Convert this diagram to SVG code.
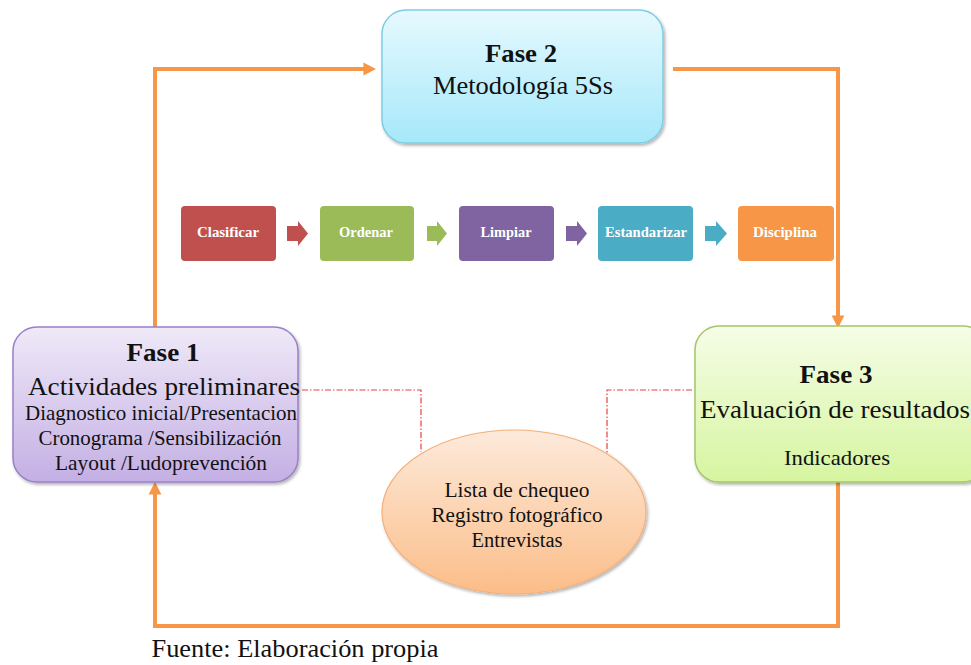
<svg xmlns="http://www.w3.org/2000/svg" width="971" height="665" viewBox="0 0 971 665" font-family="Liberation Serif, Times New Roman, serif">
<defs>
<linearGradient id="gBlue" x1="0" y1="0" x2="0" y2="1"><stop offset="0" stop-color="#e6f9fe"/><stop offset="1" stop-color="#a6e8fa"/></linearGradient>
<linearGradient id="gPurple" x1="0" y1="0" x2="0" y2="1"><stop offset="0" stop-color="#efe9f8"/><stop offset="1" stop-color="#c4afe4"/></linearGradient>
<linearGradient id="gGreen" x1="0" y1="0" x2="0" y2="1"><stop offset="0" stop-color="#f5fde6"/><stop offset="1" stop-color="#d6f5a0"/></linearGradient>
<linearGradient id="gOrange" x1="0" y1="0" x2="0" y2="1"><stop offset="0" stop-color="#fdeadb"/><stop offset="1" stop-color="#fbbd88"/></linearGradient>
<filter id="sh" x="-10%" y="-10%" width="130%" height="130%"><feDropShadow dx="1.5" dy="2" stdDeviation="1.5" flood-color="#000" flood-opacity="0.3"/></filter>
<marker id="ah" viewBox="0 0 10 10" refX="2" refY="5" markerWidth="3.2" markerHeight="3.4" orient="auto" markerUnits="strokeWidth"><path d="M0,0 L10,5 L0,10 Z" fill="#f79646"/></marker>
</defs>
<style>
.conn{fill:none;stroke:#f79646;stroke-width:4;stroke-linejoin:miter}
.dd{fill:none;stroke:#e8413a;stroke-width:1.2;stroke-dasharray:6 2 1.5 2}
.t{fill:#111;text-anchor:middle}
.b{font-weight:bold}
.p{font-weight:bold;fill:#fff;font-size:15px;text-anchor:middle}
</style>
<rect width="971" height="665" fill="#fff"/>

<g id="connectors">
<path class="conn" d="M155,327 V69 H366" marker-end="url(#ah)"/>
<path class="conn" d="M673,69 H838 V318" marker-end="url(#ah)"/>
<path class="conn" d="M838,482 V626 H155 V492" marker-end="url(#ah)"/>
<path class="dd" d="M302,390 H421 V452"/>
<path class="dd" d="M692,390 H607 V455"/>
</g>

<g id="fase2">
<rect x="382" y="10" width="281" height="133" rx="24" fill="url(#gBlue)" stroke="#7fcde3" stroke-width="1.5" filter="url(#sh)"/>
<text class="t b" x="521" y="62" font-size="26" textLength="72" lengthAdjust="spacingAndGlyphs">Fase 2</text>
<text class="t" x="523" y="94" font-size="26" textLength="180" lengthAdjust="spacingAndGlyphs">Metodología 5Ss</text>
</g>

<g id="fase1">
<rect x="13" y="327" width="285" height="155" rx="24" fill="url(#gPurple)" stroke="#9a80c8" stroke-width="1.5" filter="url(#sh)"/>
<text class="t b" x="163" y="361" font-size="25" textLength="73" lengthAdjust="spacingAndGlyphs">Fase 1</text>
<text class="t" x="164" y="395" font-size="25" textLength="272" lengthAdjust="spacingAndGlyphs">Actividades preliminares</text>
<text class="t" x="161" y="420" font-size="21" textLength="272" lengthAdjust="spacingAndGlyphs">Diagnostico inicial/Presentacion</text>
<text class="t" x="160" y="445" font-size="21" textLength="243" lengthAdjust="spacingAndGlyphs">Cronograma /Sensibilización</text>
<text class="t" x="161" y="470" font-size="21" textLength="212" lengthAdjust="spacingAndGlyphs">Layout /Ludoprevención</text>
</g>

<g id="fase3">
<rect x="695" y="326" width="292" height="156" rx="24" fill="url(#gGreen)" stroke="#a5c56a" stroke-width="1.5" filter="url(#sh)"/>
<text class="t b" x="836" y="383" font-size="25" textLength="73" lengthAdjust="spacingAndGlyphs">Fase 3</text>
<text class="t" x="835" y="418" font-size="25" textLength="270" lengthAdjust="spacingAndGlyphs">Evaluación de resultados</text>
<text class="t" x="837" y="465" font-size="21" textLength="106" lengthAdjust="spacingAndGlyphs">Indicadores</text>
</g>

<g id="herramientas">
<ellipse cx="514" cy="512" rx="132" ry="82" fill="url(#gOrange)" stroke="#f4b07a" stroke-width="1.2" filter="url(#sh)"/>
<text class="t" x="517" y="497" font-size="20" textLength="145" lengthAdjust="spacingAndGlyphs">Lista de chequeo</text>
<text class="t" x="517" y="522" font-size="20" textLength="171" lengthAdjust="spacingAndGlyphs">Registro fotográfico</text>
<text class="t" x="517" y="547" font-size="20" textLength="91" lengthAdjust="spacingAndGlyphs">Entrevistas</text>
</g>

<g id="clasificar">
<rect x="181" y="206" width="95" height="55" rx="4" fill="#c0504d"/>
<text class="p" x="228" y="237" textLength="62" lengthAdjust="spacingAndGlyphs">Clasificar</text>
</g>
<g id="flecha1"><path d="M287,226 H298 V221 L308,233.5 L298,246 V241 H287 Z" fill="#c0504d"/></g>
<g id="ordenar">
<rect x="320" y="206" width="94" height="55" rx="4" fill="#9bbb59"/>
<text class="p" x="366" y="237" textLength="54" lengthAdjust="spacingAndGlyphs">Ordenar</text>
</g>
<g id="flecha2"><path d="M427,226 H437 V221 L447,233.5 L437,246 V241 H427 Z" fill="#9bbb59"/></g>
<g id="limpiar">
<rect x="459" y="206" width="95" height="55" rx="4" fill="#8064a2"/>
<text class="p" x="506" y="237" textLength="51" lengthAdjust="spacingAndGlyphs">Limpiar</text>
</g>
<g id="flecha3"><path d="M566,226 H577 V221 L587,233.5 L577,246 V241 H566 Z" fill="#8064a2"/></g>
<g id="estandarizar">
<rect x="598" y="206" width="95" height="55" rx="4" fill="#4bacc6"/>
<text class="p" x="646" y="237" textLength="82" lengthAdjust="spacingAndGlyphs">Estandarizar</text>
</g>
<g id="flecha4"><path d="M705,226 H716 V221 L727,233.5 L716,246 V241 H705 Z" fill="#4bacc6"/></g>
<g id="disciplina">
<rect x="738" y="206" width="96" height="55" rx="4" fill="#f79646"/>
<text class="p" x="785" y="237" textLength="64" lengthAdjust="spacingAndGlyphs">Disciplina</text>
</g>

<text class="t" x="295" y="657" font-size="25" textLength="287" lengthAdjust="spacingAndGlyphs">Fuente: Elaboración propia</text>
</svg>
